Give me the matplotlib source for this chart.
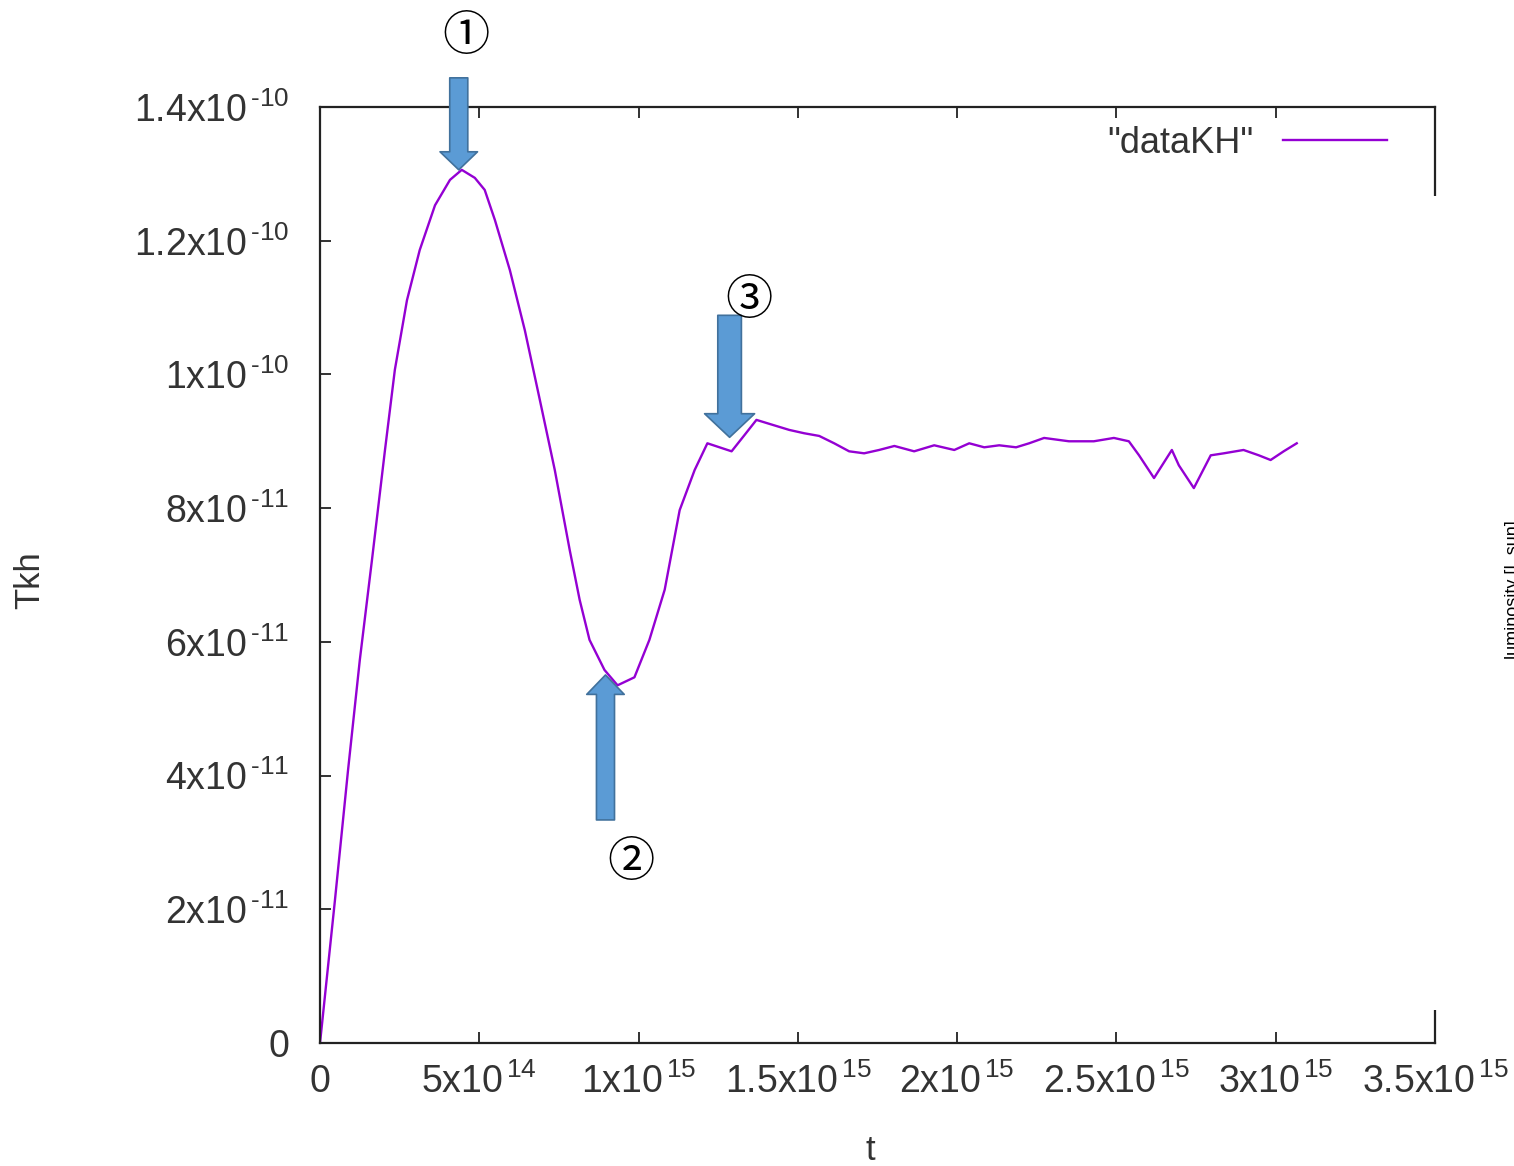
import numpy as np
import matplotlib.pyplot as plt
from matplotlib.ticker import FuncFormatter, MultipleLocator
from matplotlib.patches import Rectangle
from matplotlib.transforms import Affine2D, offset_copy

# t in units of 1e14, Tkh in units of 1e-11
t_vals = [0.0, 0.06, 0.47, 0.88, 1.25, 1.63, 2.04, 2.35, 2.73, 3.13, 3.61,
          4.08, 4.45, 4.86, 5.17, 5.49, 5.96, 6.43, 6.90, 7.37, 7.84, 8.15,
          8.46, 8.93, 9.34, 9.87, 10.34, 10.82, 11.29, 11.76, 12.16, 12.54,
          12.92, 13.32, 13.70, 14.11, 14.73, 15.20, 15.67, 16.14, 16.61,
          17.08, 17.55, 18.03, 18.65, 19.28, 19.91, 20.38, 20.85, 21.32,
          21.85, 22.26, 22.73, 23.51, 24.29, 24.92, 25.39, 25.71, 26.18,
          26.74, 26.96, 27.43, 27.96, 28.37, 28.99, 29.47, 29.84, 30.25, 30.66]
tkh_vals = [0.0, 0.27, 2.14, 4.08, 5.73, 7.22, 8.87, 10.07, 11.11, 11.86,
            12.53, 12.91, 13.06, 12.94, 12.76, 12.31, 11.56, 10.66, 9.62,
            8.57, 7.37, 6.63, 6.03, 5.58, 5.35, 5.47, 6.03, 6.78, 7.97, 8.57,
            8.97, 8.91, 8.85, 9.09, 9.32, 9.26, 9.17, 9.12, 9.08, 8.97, 8.85,
            8.82, 8.87, 8.93, 8.85, 8.94, 8.87, 8.97, 8.91, 8.94, 8.91, 8.97,
            9.05, 9.00, 9.00, 9.05, 9.00, 8.79, 8.45, 8.87, 8.64, 8.30, 8.79,
            8.82, 8.87, 8.79, 8.72, 8.85, 8.97]

t = np.array(t_vals) * 1e14
tkh = np.array(tkh_vals) * 1e-11

# marked points: peak (1), minimum (2), plateau (3)
marks = [12, 23, 32]
mark_labels = ['①', '②', '③']

W, H = 1514, 1166
plt.rcParams['font.family'] = ['Liberation Sans', 'DejaVu Sans']
plt.rcParams['mathtext.fontset'] = 'custom'
plt.rcParams['mathtext.rm'] = 'Liberation Sans'
plt.rcParams['mathtext.it'] = 'Liberation Sans'
txt_col = '#333333'

fig = plt.figure(figsize=(W / 100, H / 100), dpi=100)
fig.patch.set_facecolor('white')
ax = fig.add_axes([320 / W, 1 - 1043 / H, 1115 / W, 936 / H])

ax.plot(t, tkh, color='#9400d3', lw=1.7, label='"dataKH"')

ax.set_xlim(0, 3.5e15)
ax.set_ylim(0, 1.4e-10)
ax.xaxis.set_major_locator(MultipleLocator(5e14))
ax.yaxis.set_major_locator(MultipleLocator(2e-11))


def sci(v, pos):
    if abs(v) < 1e-30:
        return '0'
    e = int(np.floor(np.log10(abs(v)) + 1e-9))
    m = round(v / 10 ** e, 3)
    ex = str(e).replace('-', '\u2010')
    return '%gx10$^{\\,\\mathregular{%s}}$' % (m, ex)


ax.xaxis.set_major_formatter(FuncFormatter(sci))
ax.yaxis.set_major_formatter(FuncFormatter(sci))
ax.tick_params(direction='in', length=8, width=1.3, top=True, right=True,
               labelsize=27, labelcolor=txt_col, color='#222222')
ax.tick_params(axis='y', pad=22)
ax.tick_params(axis='x', pad=15)
for s in ax.spines.values():
    s.set_linewidth(1.6)
    s.set_color('#222222')

# pixel transform (origin top-left)
pix = Affine2D().scale(1 / W, -1 / H).translate(0, 1) + fig.transFigure

fig.text(30, 580, 'Tkh', transform=pix, rotation=90, ha='center',
         va='center', fontsize=25, color=txt_col)
fig.text(870, 1150, 't', transform=pix, ha='center', va='center',
         fontsize=25, color=txt_col)

leg = ax.legend(loc='upper right', frameon=False, markerfirst=False,
                fontsize=26, handlelength=2.9, handletextpad=0.8,
                bbox_to_anchor=(1420, 93), bbox_transform=pix)
for tx in leg.get_texts():
    tx.set_color(txt_col)

# white patch hiding part of right border, side label cut off
fig.add_artist(Rectangle((1415, 196), 40, 814, transform=pix,
                         facecolor='white', edgecolor='none', zorder=10))
fig.text(1513, 590, 'luminosity [L sun]', transform=pix, rotation=90,
         ha='center', va='center', fontsize=13, color='black', zorder=11)

# block arrows with circled numbers
arrow_fc = '#5b9bd5'
arrow_ec = '#41719c'
arrow_cfg = [  # tip offset px, shaft length px, tail w, head w, head l, label offset
    ((-3, 0), 92, 13, 27, 13, (4, 133)),
    ((1, -5), -145, 13, 27, 14, (27, -193)),
    ((-2, 14), 122, 17, 36, 17, (17, 151)),
]
for i, lab, cfg in zip(marks, mark_labels, arrow_cfg):
    (dx, dy), L, tw, hw, hl, (lx, ly) = cfg
    xy = (t[i], tkh[i])
    tip_tr = offset_copy(ax.transData, fig=fig, x=dx, y=dy, units='dots')
    style = 'simple,head_length=%g,head_width=%g,tail_width=%g' % (hl, hw, tw)
    ax.annotate('', xy=xy, xycoords=tip_tr, xytext=(0, L),
                textcoords='offset pixels',
                arrowprops=dict(arrowstyle=style, mutation_scale=1,
                                fc=arrow_fc, ec=arrow_ec, lw=1.2,
                                shrinkA=0, shrinkB=0),
                annotation_clip=False)
    ax.annotate(lab, xy=xy, xytext=(lx, ly), textcoords='offset pixels',
                ha='center', va='center', fontsize=34,
                family=['Noto Sans CJK JP', 'DejaVu Sans'],
                annotation_clip=False)

fig.savefig('out.png', dpi=100)
